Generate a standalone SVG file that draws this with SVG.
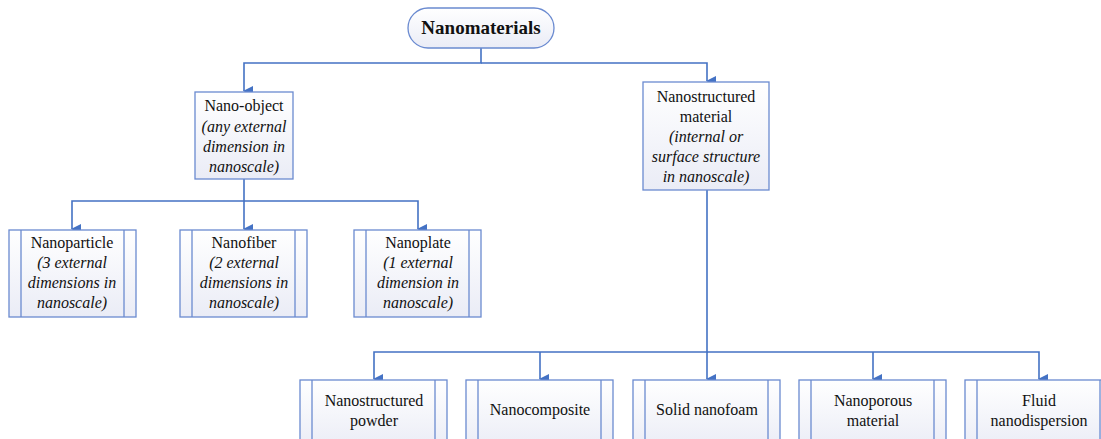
<svg xmlns="http://www.w3.org/2000/svg" width="1101" height="439" viewBox="0 0 1101 439">
<defs>
<linearGradient id="g" x1="0" y1="0" x2="0" y2="1"><stop offset="0" stop-color="#ffffff"/><stop offset="1" stop-color="#eaecf6"/></linearGradient>
<marker id="arr" markerWidth="10" markerHeight="10" refX="5" refY="9" orient="auto" markerUnits="userSpaceOnUse" viewBox="0 0 10 10"><path d="M0,0 L10,0 L5,10 Z" fill="#4472c4"/></marker>
<style>
.box{fill:url(#g);stroke:#6a8ad0;stroke-width:1.3}
.in{stroke:#6a8ad0;stroke-width:1.3}
.c{fill:none;stroke:#4472c4;stroke-width:1.6}
text{font-family:"Liberation Serif","Times New Roman",serif;font-size:16px;fill:#111;text-anchor:middle}
.i{font-style:italic}
.b{font-weight:bold;font-size:19px}
</style>
</defs>
<g id="connectors">
<path class="c" d="M481,48 V63 H244 V91" marker-end="url(#arr)"/>
<path class="c" d="M481,63 H707 V81" marker-end="url(#arr)"/>
<path class="c" d="M244,179 V201 H72 V229" marker-end="url(#arr)"/>
<path class="c" d="M244,201 V229" marker-end="url(#arr)"/>
<path class="c" d="M244,201 H418 V229" marker-end="url(#arr)"/>
<path class="c" d="M707,190 V352 H374 V379" marker-end="url(#arr)"/>
<path class="c" d="M540,352 V379" marker-end="url(#arr)"/>
<path class="c" d="M707,352 V379" marker-end="url(#arr)"/>
<path class="c" d="M707,352 H1039 V379" marker-end="url(#arr)"/>
<path class="c" d="M873,352 V379" marker-end="url(#arr)"/>
</g>
<g id="root">
<rect x="408" y="8" width="146" height="40" rx="20" class="box"/>
<text class="b" x="481" y="34">Nanomaterials</text>
</g>
<g id="nano-object">
<rect x="195" y="92" width="98" height="87" class="box"/>
<text x="244" y="111">Nano-object</text>
<text class="i" x="244" y="132">(any external</text>
<text class="i" x="244" y="152">dimension in</text>
<text class="i" x="244" y="172">nanoscale)</text>
</g>
<g id="nanostructured-material">
<rect x="643" y="82" width="126" height="108" class="box"/>
<text x="706" y="102">Nanostructured</text>
<text x="706" y="122">material</text>
<text class="i" x="706" y="142">(internal or</text>
<text class="i" x="706" y="162">surface structure</text>
<text class="i" x="706" y="182">in nanoscale)</text>
</g>
<g id="nanoparticle">
<rect x="9" y="230" width="127" height="87" class="box"/>
<line class="in" x1="21" y1="230" x2="21" y2="317"/><line class="in" x1="124" y1="230" x2="124" y2="317"/>
<text x="72" y="248">Nanoparticle</text>
<text class="i" x="72" y="268">(3 external</text>
<text class="i" x="72" y="288">dimensions in</text>
<text class="i" x="72" y="308">nanoscale)</text>
</g>
<g id="nanofiber">
<rect x="180" y="230" width="127" height="87" class="box"/>
<line class="in" x1="192" y1="230" x2="192" y2="317"/><line class="in" x1="295" y1="230" x2="295" y2="317"/>
<text x="244" y="248">Nanofiber</text>
<text class="i" x="244" y="268">(2 external</text>
<text class="i" x="244" y="288">dimensions in</text>
<text class="i" x="244" y="308">nanoscale)</text>
</g>
<g id="nanoplate">
<rect x="354" y="230" width="127" height="87" class="box"/>
<line class="in" x1="366" y1="230" x2="366" y2="317"/><line class="in" x1="469" y1="230" x2="469" y2="317"/>
<text x="418" y="248">Nanoplate</text>
<text class="i" x="418" y="268">(1 external</text>
<text class="i" x="418" y="288">dimension in</text>
<text class="i" x="418" y="308">nanoscale)</text>
</g>
<g id="nanostructured-powder">
<rect x="300" y="380" width="147" height="70" class="box"/>
<line class="in" x1="312" y1="380" x2="312" y2="450"/><line class="in" x1="435" y1="380" x2="435" y2="450"/>
<text x="374" y="406">Nanostructured</text>
<text x="374" y="426">powder</text>
</g>
<g id="nanocomposite">
<rect x="466" y="380" width="147" height="70" class="box"/>
<line class="in" x1="478" y1="380" x2="478" y2="450"/><line class="in" x1="601" y1="380" x2="601" y2="450"/>
<text x="540" y="415">Nanocomposite</text>
</g>
<g id="solid-nanofoam">
<rect x="633" y="380" width="147" height="70" class="box"/>
<line class="in" x1="645" y1="380" x2="645" y2="450"/><line class="in" x1="768" y1="380" x2="768" y2="450"/>
<text x="707" y="415">Solid nanofoam</text>
</g>
<g id="nanoporous-material">
<rect x="799" y="380" width="147" height="70" class="box"/>
<line class="in" x1="811" y1="380" x2="811" y2="450"/><line class="in" x1="934" y1="380" x2="934" y2="450"/>
<text x="873" y="406">Nanoporous</text>
<text x="873" y="426">material</text>
</g>
<g id="fluid-nanodispersion">
<rect x="965" y="380" width="147" height="70" class="box"/>
<line class="in" x1="977" y1="380" x2="977" y2="450"/><line class="in" x1="1100" y1="380" x2="1100" y2="450"/>
<text x="1039" y="406">Fluid</text>
<text x="1039" y="426">nanodispersion</text>
</g>
</svg>
